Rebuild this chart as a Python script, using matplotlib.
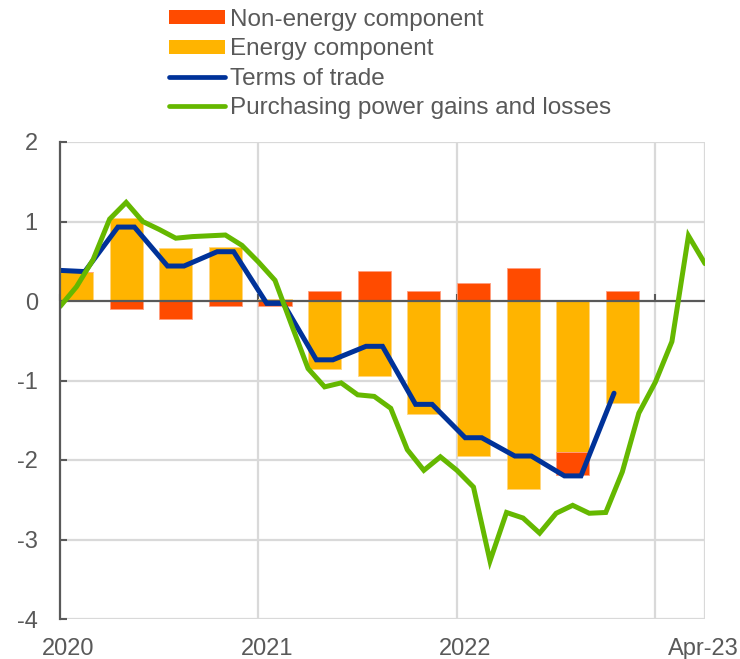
import numpy as np
import matplotlib
matplotlib.use("Agg")
import matplotlib.pyplot as plt
from matplotlib.patches import Patch
from matplotlib.lines import Line2D

plt.rcParams['font.family'] = ['Liberation Sans', 'DejaVu Sans']

# ---- data ----
quarters = ['Q1 2020', 'Q2 2020', 'Q3 2020', 'Q4 2020',
            'Q1 2021', 'Q2 2021', 'Q3 2021', 'Q4 2021',
            'Q1 2022', 'Q2 2022', 'Q3 2022', 'Q4 2022']
energy = [0.37, 1.04, 0.67, 0.68, 0.03, -0.86, -0.94, -1.42, -1.95, -2.37, -1.90, -1.28]
non_energy = [0.00, -0.10, -0.23, -0.06, -0.06, 0.12, 0.38, 0.13, 0.23, 0.42, -0.29, 0.13]

# terms of trade, monthly from Dec-2019 to Oct-2022 (NaN = no observation)
tot_months = list(range(-1, 34))
tot = [0.39,
       0.38, 0.37, np.nan, 0.93, 0.93, np.nan, 0.44, 0.44, np.nan, 0.62, 0.62, np.nan,
       -0.03, -0.03, np.nan, -0.74, -0.74, np.nan, -0.57, -0.57, np.nan, -1.30, -1.30, np.nan,
       -1.72, -1.72, np.nan, -1.95, -1.95, np.nan, -2.20, -2.20, np.nan, -1.16]

# purchasing power gains and losses, monthly Jan-2020 .. Apr-2023
ppg = [-0.07, 0.18, 0.52, 1.03, 1.24, 1.00, 0.90, 0.79, 0.81, 0.82, 0.83, 0.70,
       0.49, 0.26, -0.30, -0.85, -1.08, -1.03, -1.18, -1.20, -1.35, -1.87, -2.13, -1.96,
       -2.13, -2.34, -3.27, -2.66, -2.73, -2.92, -2.67, -2.57, -2.67, -2.66, -2.15, -1.41,
       -1.02, -0.51, 0.82, 0.47]

xtick_labels = ['2020', '2021', '2022', 'Apr-23']
yticks = [-4, -3, -2, -1, 0, 1, 2]

# ---- colours ----
C_RED = '#FF4B00'
C_ORANGE = '#FFB400'
C_BLUE = '#003299'
C_GREEN = '#65B800'
C_GRID = '#D9D9D9'
C_AXIS = '#595959'
C_TEXT = '#595959'

fig = plt.figure(figsize=(7.40, 6.59), dpi=100)
ax = fig.add_axes([60/740, 1-619/659, 645/740, 477/659])

# bars: quarter start + 1 month centre, 2 months wide
energy = np.array(energy)
non_energy = np.array(non_energy)
xq = np.arange(len(quarters)) * 3 + 1.0
bw = 2.0
pos_e = np.where(energy > 0, energy, 0)
neg_e = np.where(energy < 0, energy, 0)
base_ne = np.where(non_energy >= 0, pos_e, neg_e)
ax.bar(xq, energy, width=bw, color=C_ORANGE, edgecolor='#FFD680', linewidth=0.6, zorder=2)
ax.bar(xq, non_energy, width=bw, bottom=base_ne, color=C_RED, edgecolor='#FF9E80',
       linewidth=0.6, zorder=2)

# terms of trade line (at month centres)
tm = np.array(tot_months, dtype=float) + 0.5
tv = np.array(tot)
mask = ~np.isnan(tv)
ax.plot(tm[mask], tv[mask], color=C_BLUE, lw=3.6, zorder=4, solid_joinstyle='miter',
        solid_capstyle='round')

# purchasing power line (at month edges)
ax.plot(np.arange(len(ppg)), ppg, color=C_GREEN, lw=3.6, zorder=5, solid_joinstyle='miter',
        solid_capstyle='round')

ax.set_xlim(0, 39)
ax.set_ylim(-4, 2)

# grid
ax.set_yticks(yticks)
ax.set_yticklabels([str(v) for v in yticks])
for y in yticks:
    if y != 0:
        ax.axhline(y, color=C_GRID, lw=1.6, zorder=0)
for xv in [12, 24, 36, 39]:
    ax.axvline(xv, color=C_GRID, lw=1.6, zorder=0)
ax.axhline(0, color=C_AXIS, lw=1.6, zorder=3)

ax.set_xticks([0.5, 12.5, 24.5, 38.9])
ax.set_xticklabels(xtick_labels)
ax.tick_params(axis='x', length=0, pad=14, labelsize=17, labelcolor=C_TEXT)
ax.tick_params(axis='y', direction='in', length=5, width=1.5, color=C_AXIS,
               labelsize=17, labelcolor=C_TEXT, pad=16)
for lab in ax.get_yticklabels():
    lab.set_horizontalalignment('right')

for s in ['top', 'right', 'bottom']:
    ax.spines[s].set_visible(False)
ax.spines['left'].set_color(C_AXIS)
ax.spines['left'].set_linewidth(1.6)
ax.spines['left'].set_zorder(6)

# small tick marks at the zero line for year boundaries
sec = ax.secondary_xaxis(4/6)
sec.set_xticks([0, 12, 24, 36])
sec.set_xticklabels([])
sec.tick_params(axis='x', direction='out', length=5, width=1.5, color=C_AXIS)
sec.spines['bottom'].set_visible(False)
sec.spines['top'].set_visible(False)

handles = [Patch(facecolor=C_RED, edgecolor='none'),
           Patch(facecolor=C_ORANGE, edgecolor='none'),
           Line2D([], [], color=C_BLUE, lw=3.4, solid_capstyle='round'),
           Line2D([], [], color=C_GREEN, lw=3.4, solid_capstyle='round')]
labels = ['Non-energy component', 'Energy component', 'Terms of trade',
          'Purchasing power gains and losses']
leg = fig.legend(handles, labels, loc='upper left', bbox_to_anchor=(169/740, 1-9/659),
                 frameon=False, fontsize=17.5, handlelength=2.3, handleheight=0.52,
                 handletextpad=0.2, labelspacing=0.3, borderpad=0, borderaxespad=0)
for t in leg.get_texts():
    t.set_color(C_TEXT)

fig.savefig('out.png', dpi=100)
